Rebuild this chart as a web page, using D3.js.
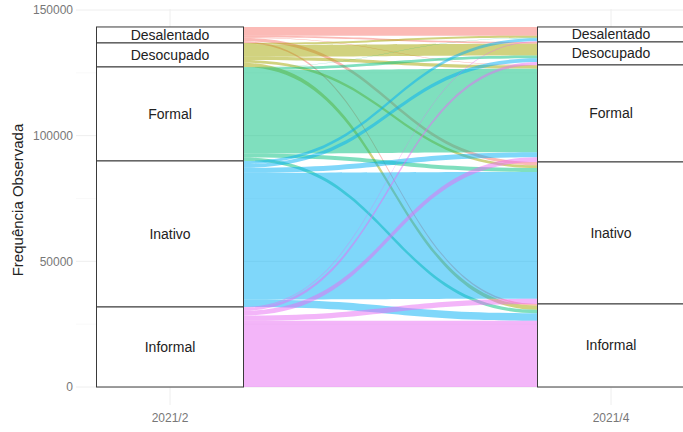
<!DOCTYPE html>
<html lang="pt">
<head>
<meta charset="UTF-8">
<script src="https://d3js.org/d3.v7.min.js"></script>
<style>
  body { margin: 0; background: #fff; }
  svg { display: block; font-family: "Liberation Sans", Arial, sans-serif; }
</style>
</head>
<body>
<svg width="683" height="432"></svg>
<script>
// categorias e eixos
const estados = ["Desalentado", "Desocupado", "Formal", "Inativo", "Informal"];
const periodos = ["2021/2", "2021/4"];
const cores = ["#F8766D", "#A3A500", "#00BF7D", "#00B0F6", "#E76BF3"];

// fluxos 2021/2 -> 2021/4 (destino na ordem de estados)
const deDesalentado = [3500, 700, 200, 1300, 670];
const deDesocupado  = [800, 4700, 1300, 1100, 1650];
const deFormal      = [150, 1100, 33200, 1600, 1350];
const deInativo     = [1200, 1500, 2000, 50400, 3000];
const deInformal    = [320, 1150, 1900, 2100, 26360];

const yTicks = [0, 50000, 100000, 150000];
const yMinor = [25000, 75000, 125000];

const fluxos = [deDesalentado, deDesocupado, deFormal, deInativo, deInformal];

const svg = d3.select("svg");
const x = d3.scalePoint().domain(periodos).range([170, 611]);
const y = d3.scaleLinear().domain([0, 150000]).range([387, 10]);
const larg = 147;
const panel = {l: 76, r: 683, t: 9, b: 405};

// grade
const g = svg.append("g");
g.selectAll(".minor").data(yMinor).enter().append("line")
  .attr("x1", panel.l).attr("x2", panel.r)
  .attr("y1", d => y(d)).attr("y2", d => y(d))
  .attr("stroke", "#f5f5f5").attr("stroke-width", 0.6);
g.selectAll(".major").data(yTicks).enter().append("line")
  .attr("x1", panel.l).attr("x2", panel.r)
  .attr("y1", d => y(d)).attr("y2", d => y(d))
  .attr("stroke", "#eeeeee").attr("stroke-width", 1);
g.selectAll(".vx").data(periodos).enter().append("line")
  .attr("x1", d => x(d)).attr("x2", d => x(d))
  .attr("y1", panel.t).attr("y2", panel.b)
  .attr("stroke", "#eeeeee").attr("stroke-width", 1);

// totais
const totEsq = fluxos.map(r => d3.sum(r));
const totDir = estados.map((e, j) => d3.sum(fluxos, r => r[j]));
const topoEsq = estados.map((e, i) => d3.sum(totEsq.slice(i)));
const topoDir = estados.map((e, j) => d3.sum(totDir.slice(j)));

// lodes
const lodes = [];
fluxos.forEach((r, i) => r.forEach((v, j) => {
  const a0 = topoEsq[i] - d3.sum(r.slice(0, j));
  const b0 = topoDir[j] - d3.sum(fluxos.slice(0, i), rr => rr[j]);
  lodes.push({i, j, v, a0, a1: a0 - v, b0, b1: b0 - v});
}));

const x0 = x(periodos[0]) + larg / 2, x1 = x(periodos[1]) - larg / 2, xm = (x0 + x1) / 2;
svg.append("g").selectAll("path").data(lodes).enter().append("path")
  .attr("d", d => `M${x0},${y(d.a0)} C${xm},${y(d.a0)} ${xm},${y(d.b0)} ${x1},${y(d.b0)}`
    + ` L${x1},${y(d.b1)} C${xm},${y(d.b1)} ${xm},${y(d.a1)} ${x0},${y(d.a1)} Z`)
  .attr("fill", d => cores[d.i]).attr("fill-opacity", 0.5);

// estratos
[[periodos[0], totEsq, topoEsq], [periodos[1], totDir, topoDir]].forEach(([p, tot, topo]) => {
  const s = svg.append("g");
  estados.forEach((e, k) => {
    s.append("rect")
      .attr("x", x(p) - larg / 2).attr("width", larg)
      .attr("y", y(topo[k])).attr("height", y(topo[k] - tot[k]) - y(topo[k]))
      .attr("fill", "#fff").attr("stroke", "#3a3a3a").attr("stroke-width", 1);
    s.append("text")
      .attr("x", x(p)).attr("y", y(topo[k] - tot[k] / 2))
      .attr("text-anchor", "middle").attr("dominant-baseline", "central")
      .attr("fill", "#222").style("font-size", "14px")
      .text(e);
  });
});

// eixos
svg.append("g").selectAll("text").data(yTicks).enter().append("text")
  .attr("x", 73).attr("y", d => y(d)).attr("dy", "0.35em")
  .attr("text-anchor", "end").attr("fill", "#777").style("font-size", "12px")
  .text(d => d);
svg.append("g").selectAll("text").data(periodos).enter().append("text")
  .attr("x", d => x(d)).attr("y", 418).attr("dy", "0.35em")
  .attr("text-anchor", "middle").attr("fill", "#777").style("font-size", "12px")
  .text(d => d);
svg.append("text")
  .attr("transform", "translate(18," + ((panel.t + panel.b) / 2 - 7) + ") rotate(-90)")
  .attr("text-anchor", "middle").attr("dy", "0.35em")
  .attr("fill", "#222").style("font-size", "15px")
  .text("Frequência Observada");
</script>
</body>
</html>
